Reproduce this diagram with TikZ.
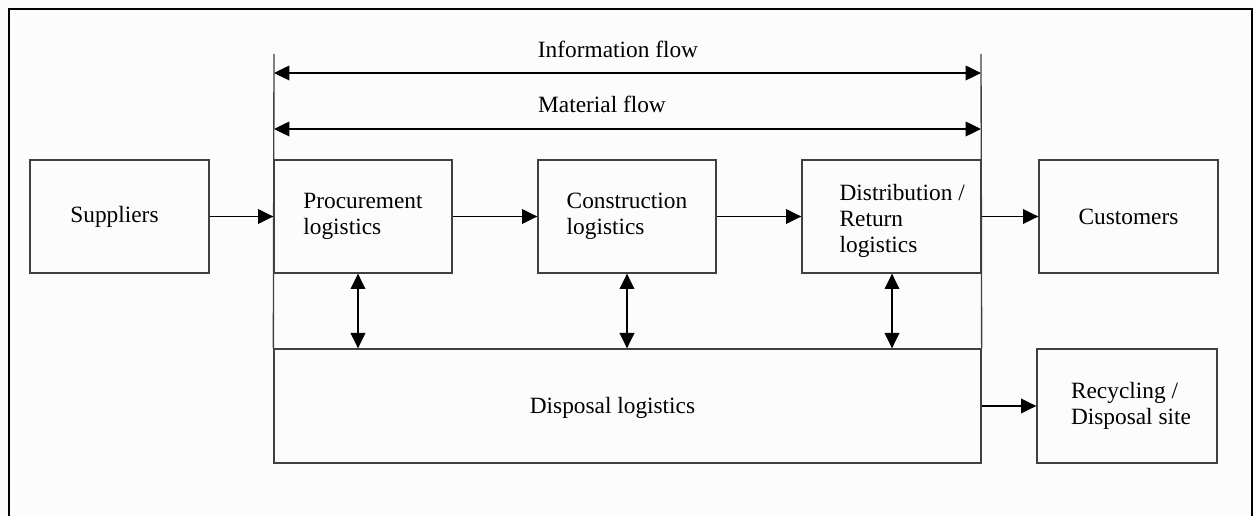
\documentclass[tikz,border=0pt]{standalone}
\usepackage{fontspec}
\setmainfont{Liberation Serif}
\usetikzlibrary{arrows.meta,fit}
\begin{document}
\begin{tikzpicture}[x=0.75pt,y=-0.75pt,
  box/.style={draw=black!75,line width=1pt,inner sep=0pt,align=left,font=\fontsize{17.5}{19.5}\selectfont},
  lab/.style={font=\fontsize{17.5}{19.5}\selectfont,inner sep=0pt},
  arr/.style={-{Triangle[length=11.5pt,width=11pt]},line width=1pt,black},
  darr/.style={{Triangle[length=11.5pt,width=11pt]}-{Triangle[length=11.5pt,width=11pt]},line width=1pt,black},
  edge/.style={draw=black!75,line width=1pt}]
\useasboundingbox (0,0) rectangle (1257,516);
\fill[white!99!black] (0,0) rectangle (1257,516);
% outer frame
\draw[line width=2.2pt] (9,530) -- (9,9) -- (1252,9) -- (1252,530);
% boxes
\node[box,fit={(30,160) (209,273)}] (sup) {};
\node[lab] at ([xshift=-3.75pt]sup.center) {Suppliers};
\node[box,fit={(274,160) (452,273)}] (proc) {};
\node[lab,align=left] at (proc.center) {Procurement\\logistics};
\node[box,fit={(538,160) (716,273)}] (cons) {};
\node[lab,align=left] at (cons.center) {Construction\\logistics};
\node[box,fit={(802,160) (981,273)}] (dist) {};
\node[lab,align=left] at ([xshift=8pt,yshift=-3pt]dist.center) {Distribution /\\Return\\logistics};
\node[box,fit={(1039,160) (1218,273)}] (cust) {};
\node[lab] at (cust.center) {Customers};
\node[box,fit={(274,349) (981,463)}] (disp) {};
\node[lab] at ([xshift=-11.25pt,yshift=-1.5pt]disp.center) {Disposal logistics};
\node[box,fit={(1037,349) (1217,463)}] (rec) {};
\node[lab,align=left] at ([xshift=3pt]rec.center) {Recycling /\\Disposal site};
% side lines
\coordinate (tl) at (274,54);
\coordinate (tr) at (981,54);
\draw[edge] (tl) -- (disp.north west);
\draw[edge] (tr) -- (disp.north east);
% flows
\coordinate (i1) at (274,73);
\coordinate (i2) at (981,73);
\coordinate (m1) at (274,129);
\coordinate (m2) at (981,129);
\draw[darr] (i1) -- (i2);
\draw[darr] (m1) -- (m2);
\node[lab] (il) at (618,49) {Information flow};
\node[lab] (ml) at (602,104) {Material flow};
% horizontal arrows
\draw[arr] (sup.east) -- (proc.west);
\draw[arr] (proc.east) -- (cons.west);
\draw[arr] (cons.east) -- (dist.west);
\draw[arr] (dist.east) -- (cust.west);
\draw[arr] (disp.east) -- (rec.west);
% vertical double arrows
\draw[darr] (proc.south -| 358,0) -- (disp.north -| 358,0);
\draw[darr] (cons.south -| 627,0) -- (disp.north -| 627,0);
\draw[darr] (dist.south -| 892,0) -- (disp.north -| 892,0);
\end{tikzpicture}
\end{document}
